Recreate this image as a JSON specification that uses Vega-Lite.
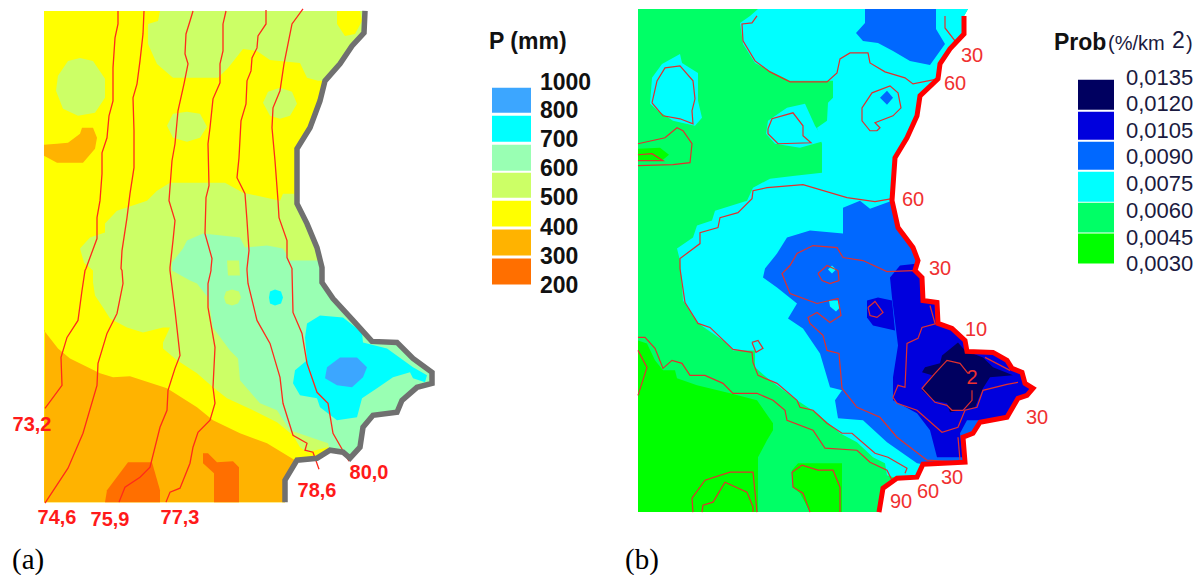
{"$schema":"https://vega.github.io/schema/vega-lite/v6.json","width":1203,"height":575,"padding":0,"autosize":{"type":"fit","contains":"padding"},"background":"white","view":{"stroke":null},
"encoding":{"x":{"field":"x","type":"quantitative","scale":{"domain":[0,1203]},"axis":null},"y":{"field":"y","type":"quantitative","scale":{"domain":[575,0]},"axis":null}},
"layer":[
{"data":{"values":[
{"id":"a0","level":"P 400-500","x":[44,365,364,352,340,325,320,310,297,297,307,317,322,322,333,353,372,397,413,432,432,417,402,397,373,363,360,350,343,330,317,297,285,285,44],"y":[10,10,32,45,63,80,100,127,148,203,223,247,267,282,298,320,341,342,358,372,383,387,400,412,415,427,447,458,452,450,458,460,480,502,502]},
{"id":"a1","level":"P 500-600","x":[160,158,148,148,157,173,218,228,243,257,270,300,307,318,325,340,352,364,365],"y":[10,20,23,43,63,77,77,67,48,50,59,62,77,80,80,63,45,32,10]},
{"id":"a2","level":"P 400-500","x":[337,337,345,355,362,360],"y":[10,23,35,33,20,10]},
{"id":"a3","level":"P 500-600","x":[80,93,105,105,95,78,63,56,58,68],"y":[57,60,78,97,112,115,108,90,75,60]},
{"id":"a4","level":"P 500-600","x":[187,200,207,200,187,173,167,173],"y":[111,113,126,137,141,137,125,113]},
{"id":"a5","level":"P 500-600","x":[280,292,297,290,280,270,263,268],"y":[87,91,103,115,118,115,102,91]},
{"id":"a6","level":"P 300-400","x":[44,57,68,80,82,93,97,95,83,57,44],"y":[144,143,142,133,127,127,137,148,162,162,155]},
{"id":"a7","level":"P 500-600","x":[80,90,105,105,117,147,157,170,225,243,280,283,294,297,307,317,322,322,333,353,372,397,413,432,432,417,402,397,373,363,360,350,343,330,328,307,300,293,277,253,227,213,197,177,163,163,170,163,143,127,110,103,95,93,93,84],"y":[248,237,232,223,210,200,190,182,182,192,200,193,193,203,223,247,267,282,298,320,341,342,358,372,383,387,400,412,415,427,447,458,452,450,447,452,447,435,422,410,398,387,373,360,348,342,327,327,332,327,318,307,295,282,270,262]},
{"id":"a8","level":"P 600-700","x":[187,203,240,245,267,283,290,318,322,322,333,353,372,397,413,432,432,417,402,397,373,363,360,350,343,330,328,290,277,260,240,238,230,213,208,197,190,172,172,183],"y":[240,233,237,247,245,248,260,260,267,282,298,320,341,342,358,372,383,387,400,412,415,427,447,458,452,450,443,430,410,403,380,358,350,327,297,283,280,270,262,248]},
{"id":"a9","level":"P 500-600","x":[227,239,240,228],"y":[260,260,275,275]},
{"id":"a10","level":"P 500-600","x":[232,239,241,238,232,226,224,226],"y":[289,291,297,303,305,303,297,291]},
{"id":"a11","level":"P 700-800","x":[275,281,283,281,275,270,269,270],"y":[289,291,297,303,305,303,297,291]},
{"id":"a12","level":"P 700-800","x":[307,320,343,362,363,387,413,427,425,413,410,393,377,362,357,337,320,317,300,293,295,307,305],"y":[323,315,317,332,342,348,367,375,382,378,372,377,388,398,417,420,407,398,395,383,370,360,337]},
{"id":"a13","level":"P 800-1000","x":[327,340,357,367,363,352,337,325],"y":[367,357,357,367,377,387,385,378]},
{"id":"a14","level":"P 300-400","x":[45,44,58,70,100,113,130,167,197,213,240,267,295,285,285,44],"y":[330,330,348,358,373,377,376,388,407,420,433,443,460,480,502,502]},
{"id":"a15","level":"P 200-300","x":[105,107,128,152,160,160],"y":[502,490,462,462,490,502]},
{"id":"a16","level":"P 200-300","x":[203,208,217,233,239,239,214,214,203],"y":[453,453,462,461,467,502,502,473,463]},
{"id":"b0","level":"Prob 0,0045-0,0060","x":[638,968,964,964,950,940,938,920,917,907,895,892,898,913,918,915,922,923,937,938,952,965,967,993,1007,1012,1022,1025,1033,1027,1018,1007,980,973,963,965,923,917,897,883,879,638],"y":[8,8,15,33,48,63,78,95,115,137,157,200,227,247,260,270,277,300,302,323,328,340,351,352,360,368,372,383,388,395,398,417,422,433,437,462,464,477,478,488,512,512]},
{"id":"b1","level":"Prob 0,0030-0,0045","x":[638,647,655,663,675,677,697,730,757,773,773,767,758,758,638],"y":[340,343,360,370,370,378,385,393,400,423,430,440,457,512,512]},
{"id":"b2","level":"Prob 0,0030-0,0045","x":[792,798,842,842,810,800,793],"y":[470,463,463,512,512,493,487]},
{"id":"b3","level":"Prob 0,0030-0,0045","x":[638,660,669,663,638],"y":[148,147,154,159,160]},
{"id":"b4","level":"Prob 0,0060-0,0075","x":[758,750,740,743,755,770,790,833,833,828,827,817,822,822,795,770,753,747,715,712,697,693,677,680,683,697,723,733,755,755,770,797,817,840,857,873,885,887,897,917,923,965,963,973,980,1007,1018,1027,1033,1025,1022,1012,1007,993,967,965,952,938,937,923,922,915,918,913,898,892,895,907,917,920,938,940,950,964,964,968],"y":[8,15,22,43,62,70,80,80,97,102,120,127,143,172,175,178,187,200,210,220,225,237,248,260,300,322,340,350,350,367,380,400,413,433,442,457,463,475,478,477,464,462,437,433,422,417,398,395,388,383,372,368,360,352,351,340,328,323,302,300,277,270,260,247,227,200,157,137,115,95,78,63,48,33,15,8]},
{"id":"b5","level":"Prob 0,0060-0,0075","x":[680,682,698,698,702,695,673,658,650,652,662],"y":[53,62,72,100,117,125,120,110,103,77,63]},
{"id":"b6","level":"Prob 0,0060-0,0075","x":[768,787,805,815,825,800,775,766],"y":[120,107,103,125,140,147,143,133]},
{"id":"b7","level":"Prob 0,0075-0,0090","x":[865,865,856,863,878,893,910,930,940,945,936,936],"y":[8,22,32,40,42,50,60,64,50,43,28,8]},
{"id":"b8","level":"Prob 0,0075-0,0090","x":[887,893,887,880],"y":[90,97,104,97]},
{"id":"b9","level":"Prob 0,0075-0,0090","x":[843,860,870,892,898,913,918,915,922,923,937,938,952,965,967,993,1007,1012,1022,1025,1033,1027,1018,1007,980,973,963,965,923,917,887,863,838,835,842,830,820,803,788,797,777,763,765,777,787,810,843],"y":[207,200,208,200,227,247,260,270,277,300,302,323,328,340,351,352,360,368,372,383,388,395,398,417,422,433,437,462,464,463,442,420,418,400,390,387,353,328,318,303,287,277,268,253,237,230,233]},
{"id":"b10","level":"Prob 0,0060-0,0075","x":[832,836,832,828],"y":[265,269,273,269]},
{"id":"b11","level":"Prob 0,0060-0,0075","x":[829,838,840,836,830],"y":[300,300,307,311,306]},
{"id":"b12","level":"Prob 0,0090-0,0105","x":[900,890,892,898,893,893,917,930,937,963,960,967,983,1007,1018,1027,1033,1025,1022,1012,1007,993,967,965,952,938,937,923,922,915,918],"y":[265,277,297,345,377,400,413,430,457,457,433,420,420,417,398,395,388,383,372,368,360,352,351,340,328,323,302,300,277,270,263]},
{"id":"b13","level":"Prob 0,0090-0,0105","x":[867,878,892,895,873,867],"y":[300,297,300,330,325,317]},
{"id":"b14","level":"Prob 0,0105-0,0135","x":[942,958,965,983,993,1013,990,983,975,950,947,933,922,932,922,925,940],"y":[355,342,350,357,367,375,377,388,407,412,403,400,390,375,372,367,363]}
]},"transform":[{"flatten":["x","y"]},{"window":[{"op":"row_number","as":"vertex"}]}],
"mark":{"type":"line","interpolate":"linear-closed","strokeWidth":0,"clip":true},
"encoding":{"order":{"field":"vertex","type":"quantitative"},"detail":{"field":"id"},"fill":{"field":"level","type":"nominal","legend":null,"scale":{"domain":["P 200-300","P 300-400","P 400-500","P 500-600","P 600-700","P 700-800","P 800-1000","Prob 0,0030-0,0045","Prob 0,0045-0,0060","Prob 0,0060-0,0075","Prob 0,0075-0,0090","Prob 0,0090-0,0105","Prob 0,0105-0,0135"],"range":["#ff6f00","#ffb300","#ffff00","#ccff66","#99ffb3","#00ffff","#3ca6ff","#00ff00","#00ff66","#00ffff","#0068ff","#0000dd","#000060"]}}}},
{"data":{"values":[
{"id":"73,2","x":[118,118,115,113,113,109,107,102,102,100,97,97,90,86,85,82,78,67,61,62,45],"y":[10,23,37,67,100,115,137,152,173,200,217,238,257,268,270,290,320,337,357,385,408]},
{"id":"74,6","x":[144,143,140,137,133,134,134,130,127,122,121,122,123,117,107,98,97,83,68,45],"y":[10,33,60,83,97,130,167,193,217,250,268,270,283,313,333,363,385,433,468,503]},
{"id":"75,9","x":[193,190,186,185,188,184,178,175,172,169,175,173,170,170,175,180,175,168,167,160,150,140,125,119],"y":[10,20,33,53,63,83,110,143,160,200,220,240,267,270,310,355,368,390,410,427,467,477,487,502]},
{"id":"77,3","x":[226,223,223,220,220,213,210,208,209,206,205,212,211,211,208,208,215,213,215,210,198,193,190,180,170,166],"y":[10,23,50,63,82,98,127,143,185,197,233,258,268,270,283,307,347,387,403,420,432,447,463,488,492,502]},
{"id":"78,6","x":[266,266,258,257,252,251,247,246,241,239,237,245,247,249,247,247,248,257,270,280,283,293,307,305,313,319],"y":[9,23,35,47,57,70,80,103,120,157,177,193,220,250,268,270,283,320,343,377,403,435,443,450,452,469]},
{"id":"80,0","x":[303,292,288,284,280,273,272,275,278,279,287,287,292,292,293,302,307,317,328,333,349],"y":[8,23,43,63,90,107,127,160,200,217,240,257,268,270,312,333,363,392,403,433,461]}
]},"transform":[{"flatten":["x","y"]},{"window":[{"op":"row_number","as":"vertex"}]}],
"mark":{"type":"line","stroke":"#ff2a1a","strokeWidth":1.3},"encoding":{"order":{"field":"vertex","type":"quantitative"},"detail":{"field":"id"}}},
{"data":{"values":[
{"id":"c1","x":[757,752,742,743,755,770,790,827,837,840,850,868,870,885,905,913,938],"y":[15,22,23,40,60,71,81,81,72,58,52,52,62,71,77,83,78]},
{"id":"c2","x":[945,945,955],"y":[15,27,40]},
{"id":"c3","x":[652,657,665,680,693,695,692,693,680,663,652],"y":[102,80,67,65,80,98,110,123,118,115,102]},
{"id":"c4","x":[768,772,793,803,803,811,778,768,768],"y":[128,118,112,125,135,142,143,133,128]},
{"id":"c5","x":[638,665,677,683,692,690,673,638],"y":[143,137,127,130,143,162,164,165]},
{"id":"c6","x":[638,652,663,638],"y":[154,153,160,160]},
{"id":"c7","x":[877,870,862,862,872,890,898,901,893,875,880,877],"y":[130,130,120,107,92,85,92,107,115,122,127,130]},
{"id":"c8","x":[892,875,847,803,767,753,752,738,720,718,700,700,680,680,685,698,710,733,752,753,758,777,797,800,813,827,842,852,875,888,907,905],"y":[198,201,197,184,187,190,198,212,217,227,232,243,258,268,302,323,327,349,352,362,375,383,400,407,410,423,433,433,453,457,468,473]},
{"id":"c8b","x":[752,758,763,756,752],"y":[342,340,348,352,342]},
{"id":"c9","x":[638,645,655,663,672,682,690,705,723,733,757,773,785,787,813,825,857,870,887,893],"y":[337,337,348,368,360,363,375,375,383,393,393,400,410,420,430,448,450,462,470,482]},
{"id":"c10","x":[638,647,638],"y":[350,367,395]},
{"id":"c11","x":[693,692,705,730,753,757],"y":[512,498,480,472,472,512]},
{"id":"c12","x":[702,703,713,725,747,753,753],"y":[512,505,502,482,492,507,512]},
{"id":"c13","x":[810,803,793,792,802,818,833,840,840],"y":[512,493,487,472,465,470,470,487,512]},
{"id":"c14","x":[913,887,863,843,837,813,797,790,782,790,817,838,841,830,817,808,810,823,827,839,842,857,880,897,927,960],"y":[270,271,260,257,247,245,253,265,273,293,303,298,315,322,312,317,323,335,350,353,388,407,417,437,460,462]},
{"id":"c15","x":[818,827,838,839,830,822,818],"y":[273,265,270,280,283,280,273]},
{"id":"c16","x":[868,875,883,877,870,868],"y":[307,301,312,317,315,307]},
{"id":"c17","x":[937,922,918,907,905,898,893,897,917,942,958,965,977,983,1007,1018],"y":[323,327,338,343,387,385,397,403,410,432,427,410,407,390,384,382]},
{"id":"c18","x":[968,960,947,935,922,935,947,952,963,972,972],"y":[373,363,360,373,388,402,405,410,410,400,390]},
{"id":"c19","x":[930,935],"y":[305,323]},
{"id":"c20","x":[985,1010],"y":[357,370]},
{"id":"c21","x":[958,960],"y":[437,460]}
]},"transform":[{"flatten":["x","y"]},{"window":[{"op":"row_number","as":"vertex"}]}],
"mark":{"type":"line","stroke":"#e0302e","strokeWidth":1.2},"encoding":{"order":{"field":"vertex","type":"quantitative"},"detail":{"field":"id"}}},
{"data":{"values":[{"id":"a","x":[365,364,352,340,325,320,310,297,297,307,317,322,322,333,353,372,397,413,432,432,417,402,397,373,363,360,350,343,330,317,297,285,285],"y":[10,32,45,63,80,100,127,148,203,223,247,267,282,298,320,341,342,358,372,383,387,400,412,415,427,447,458,452,450,458,460,480,502]}]},"transform":[{"flatten":["x","y"]},{"window":[{"op":"row_number","as":"vertex"}]}],
"mark":{"type":"line","stroke":"#707070","strokeWidth":5.5},"encoding":{"order":{"field":"vertex","type":"quantitative"}}},
{"data":{"values":[{"id":"b","x":[964,964,950,940,938,920,917,907,895,892,898,913,918,915,922,923,937,938,952,965,967,993,1007,1012,1022,1025,1033,1027,1018,1007,980,973,963,965,923,917,897,883,879],"y":[15,33,48,63,78,95,115,137,157,200,227,247,260,270,277,300,302,323,328,340,351,352,360,368,372,383,388,395,398,417,422,433,437,462,464,477,478,488,512]}]},"transform":[{"flatten":["x","y"]},{"window":[{"op":"row_number","as":"vertex"}]}],
"mark":{"type":"line","stroke":"#ff0000","strokeWidth":5},"encoding":{"order":{"field":"vertex","type":"quantitative"}}},
{"data":{"values":[
{"level":"P 800-1000","x":492,"x2":531,"y":87,"y2":112},{"level":"P 700-800","x":492,"x2":531,"y":115,"y2":141},{"level":"P 600-700","x":492,"x2":531,"y":144,"y2":170},{"level":"P 500-600","x":492,"x2":531,"y":172,"y2":197},{"level":"P 400-500","x":492,"x2":531,"y":200,"y2":226},{"level":"P 300-400","x":492,"x2":531,"y":229,"y2":255},{"level":"P 200-300","x":492,"x2":531,"y":258,"y2":284},
{"level":"Prob 0,0105-0,0135","x":1078,"x2":1114,"y":79,"y2":109},{"level":"Prob 0,0090-0,0105","x":1078,"x2":1114,"y":111,"y2":139},{"level":"Prob 0,0075-0,0090","x":1078,"x2":1114,"y":141,"y2":169},{"level":"Prob 0,0060-0,0075","x":1078,"x2":1114,"y":171,"y2":201},{"level":"Prob 0,0045-0,0060","x":1078,"x2":1114,"y":202,"y2":232},{"level":"Prob 0,0030-0,0045","x":1078,"x2":1114,"y":233,"y2":263}
]},"mark":{"type":"rect"},"encoding":{"x2":{"field":"x2"},"y2":{"field":"y2"},"fill":{"field":"level","type":"nominal","legend":null}}},
{"data":{"values":[{"t":"73,2","x":32,"y":425},{"t":"74,6","x":57,"y":518},{"t":"75,9","x":110,"y":520},{"t":"77,3","x":180,"y":518},{"t":"78,6","x":317,"y":491},{"t":"80,0","x":369,"y":473}]},
"mark":{"type":"text","font":"Liberation Sans","fontWeight":"bold","fontSize":20,"fill":"#ff1a1a","align":"center","baseline":"middle"},"encoding":{"text":{"field":"t"}}},
{"data":{"values":[{"t":"30","x":972,"y":55},{"t":"60","x":955,"y":83},{"t":"60","x":913,"y":199},{"t":"30","x":940,"y":268},{"t":"10","x":976,"y":330},{"t":"2","x":972,"y":378},{"t":"30","x":1037,"y":418},{"t":"30","x":952,"y":478},{"t":"60","x":928,"y":492},{"t":"90","x":901,"y":502}]},
"mark":{"type":"text","font":"Liberation Sans","fontSize":20,"fill":"#f03030","align":"center","baseline":"middle"},"encoding":{"text":{"field":"t"}}},
{"data":{"values":[{"t":"P (mm)","x":489,"y":41},{"t":"1000","x":540,"y":82},{"t":"800","x":540,"y":110},{"t":"700","x":540,"y":139},{"t":"600","x":540,"y":168},{"t":"500","x":540,"y":197},{"t":"400","x":540,"y":227},{"t":"300","x":540,"y":256},{"t":"200","x":540,"y":285},{"t":"Prob","x":1054,"y":42}]},
"mark":{"type":"text","font":"Liberation Sans","fontWeight":"bold","fontSize":23,"fill":"#111111","align":"left","baseline":"middle"},"encoding":{"text":{"field":"t"}}},
{"data":{"values":[{"t":"0,0135","x":1126,"y":77},{"t":"0,0120","x":1126,"y":103},{"t":"0,0105","x":1126,"y":130},{"t":"0,0090","x":1126,"y":156},{"t":"0,0075","x":1126,"y":183},{"t":"0,0060","x":1126,"y":210},{"t":"0,0045","x":1126,"y":237},{"t":"0,0030","x":1126,"y":263}]},
"mark":{"type":"text","font":"Liberation Sans","fontSize":22,"fill":"#1a1a40","align":"left","baseline":"middle"},"encoding":{"text":{"field":"t"}}},
{"data":{"values":[{"t":"(%/km","x":1108,"y":43},{"t":")","x":1186,"y":43}]},
"mark":{"type":"text","font":"Liberation Sans","fontSize":20,"fill":"#1a1a40","align":"left","baseline":"middle"},"encoding":{"text":{"field":"t"}}},
{"data":{"values":[{"t":"2","x":1172,"y":40}]},
"mark":{"type":"text","font":"Liberation Sans","fontSize":23,"fill":"#1a1a40","align":"left","baseline":"middle"},"encoding":{"text":{"field":"t"}}},
{"data":{"values":[{"t":"(a)","x":12,"y":560},{"t":"(b)","x":625,"y":560}]},
"mark":{"type":"text","font":"Liberation Serif","fontSize":29,"fill":"#000000","align":"left","baseline":"middle"},"encoding":{"text":{"field":"t"}}}
]}
